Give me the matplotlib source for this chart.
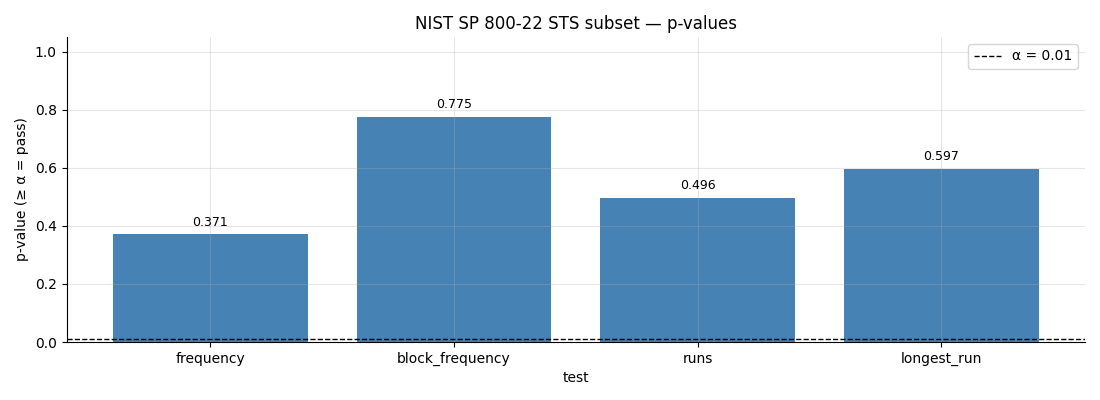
import matplotlib
matplotlib.use("Agg")
import matplotlib.pyplot as plt

tests = ["frequency", "block_frequency", "runs", "longest_run"]
pvalues = [0.371, 0.775, 0.496, 0.597]
alpha = 0.01

fig, ax = plt.subplots(figsize=(11, 4), dpi=100)
fig.subplots_adjust(left=0.0605, right=0.9865, top=0.9075, bottom=0.145)

bars = ax.bar(tests, pvalues, width=0.8, color="#4682B4")
for b, v in zip(bars, pvalues):
    ax.annotate(f"{v:.3f}", (b.get_x() + b.get_width() / 2, v),
                xytext=(0, 4), textcoords="offset points",
                ha="center", va="bottom", fontsize=9)
ax.axhline(alpha, color="black", linestyle="--", linewidth=1, label=f"α = {alpha}")
ax.set_ylim(0, 1.05)
ax.set_title("NIST SP 800-22 STS subset — p-values")
ax.set_xlabel("test")
ax.set_ylabel("p-value (≥ α = pass)")
ax.grid(True, alpha=0.3)
ax.spines["top"].set_visible(False)
ax.spines["right"].set_visible(False)
ax.legend(loc="upper right")
fig.savefig("out.png")
